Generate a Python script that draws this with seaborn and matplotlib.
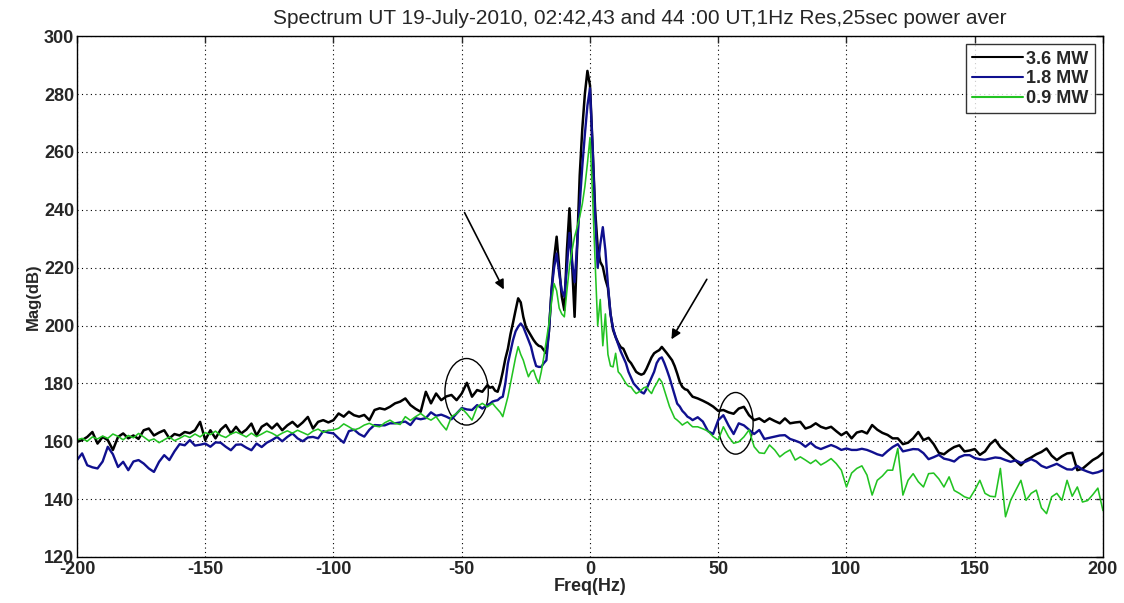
import numpy as np
import pandas as pd
import matplotlib
matplotlib.use("Agg")
import matplotlib.pyplot as plt
import seaborn as sns
from matplotlib.patches import Ellipse
from matplotlib import font_manager as fm

# ---------------- data ----------------
freq_left = list(range(-200, -41, 2))
freq_mid = list(range(-40, 41))
freq_right = list(range(42, 201, 2))
freq = freq_left + freq_mid + freq_right

black_left = [159.8, 160.4, 161.5, 163.2, 159.2, 161.5, 160.4, 157.0, 161.5, 162.7,
              161.0, 162.0, 160.8, 163.8, 164.4, 162.0, 163.0, 163.8, 161.0, 162.5,
              162.0, 163.2, 162.8, 163.8, 166.7, 160.4, 163.8, 161.0, 164.0, 165.6,
              162.7, 165.0, 162.7, 164.0, 166.1, 162.0, 165.0, 166.1, 164.4, 166.1,
              163.8, 165.5, 166.7, 165.0, 166.5, 168.4, 164.4, 166.7, 167.3, 166.5,
              167.3,
              169.6, 168.5, 170.2, 169.0, 168.5, 169.1, 167.3, 170.8, 171.4, 171.0,
              171.9, 173.1, 173.7, 174.8, 172.5, 171.2, 170.2, 177.1, 173.1, 176.5,
              174.2, 175.5, 176.0, 174.2, 176.5, 180.2, 175.4, 177.7, 177.1]
black_mid = [179.4, 178.5, 178.8, 177.5, 177.1, 180.0, 184.0, 188.5, 192.0, 197.0,
             201.0, 205.3, 209.4, 208.0, 203.0, 199.5, 198.0, 196.5, 195.0, 193.8,
             193.0, 192.7, 191.5, 190.4, 198.0, 212.0, 223.0, 230.7, 220.0, 210.0,
             205.3, 226.0, 240.5, 222.0, 203.0, 228.0, 252.0, 268.0, 280.0, 288.0,
             283.0, 262.0, 240.0, 227.0, 222.0, 220.3, 216.0, 213.0, 204.0, 198.5,
             196.0, 194.0, 192.5, 192.0, 190.0, 188.0, 187.0, 185.5, 184.0, 183.4,
             183.0, 183.4, 185.0, 187.0, 189.0, 190.4, 191.0, 191.5, 192.6, 191.5,
             190.4, 189.2, 188.0, 186.0, 183.4, 180.5, 178.8, 178.0, 177.7, 176.5,
             175.4]
black_right = [174.8, 174.0, 173.1, 172.0, 170.5, 170.8, 170.0, 169.5, 171.3, 171.9,
               169.0, 167.3, 167.9, 166.7, 167.9, 167.0, 166.2, 167.9, 166.2, 166.5,
               166.7, 164.4, 165.0, 166.2, 165.0, 164.4, 165.0, 163.5, 162.1, 163.2,
               161.0, 163.0, 163.5, 162.7, 165.6, 164.0, 162.9, 162.2, 161.0, 161.0,
               159.0, 159.5, 161.0, 163.2, 160.4, 161.2, 159.0, 156.0, 155.5, 156.9,
               158.0, 158.6, 156.5, 156.8, 157.3, 155.3, 156.5, 159.0, 160.5, 158.0,
               156.5, 155.0, 153.3, 151.7, 153.5, 154.4, 155.5, 156.3, 157.5, 155.0,
               153.5, 154.8, 155.8, 156.0, 150.0, 150.5, 152.0, 153.5, 154.5, 156.0]

blue_left = [153.5, 155.8, 151.7, 151.0, 150.6, 153.0, 158.1, 155.5, 151.1, 152.9,
             150.0, 153.0, 153.5, 152.3, 150.6, 149.4, 152.9, 155.2, 153.5, 156.5,
             159.0, 158.6, 160.4, 158.5, 158.8, 159.2, 158.1, 159.6, 159.5, 158.1,
             156.9, 158.8, 158.9, 157.8, 156.9, 159.2, 158.0, 159.5, 160.4, 161.5,
             160.0, 161.5, 162.7, 161.0, 160.0, 161.3, 161.5, 161.0, 163.5, 163.0,
             162.7,
             161.0, 159.5, 163.5, 164.0, 162.5, 161.6, 164.0, 165.6, 165.5, 165.5,
             166.2, 166.2, 166.5, 166.8, 165.6, 168.0, 167.6, 168.0, 170.0, 168.8,
             169.2, 168.5, 167.6, 169.6, 171.5, 171.0, 170.8, 172.5, 171.3]
blue_mid = [172.5, 173.0, 173.7, 174.0, 174.2, 175.0, 175.4, 180.0, 186.9, 191.0,
            195.0, 198.0, 199.6, 200.7, 199.5, 197.3, 195.0, 192.7, 189.0, 186.0,
            185.7, 185.7, 187.0, 188.0, 198.0, 212.2, 220.0, 224.9, 218.0, 212.0,
            210.0, 220.0, 232.0, 222.0, 215.0, 228.0, 242.0, 255.0, 266.0, 276.0,
            282.0, 262.0, 238.0, 220.0, 228.0, 234.0, 226.0, 214.0, 204.0, 199.0,
            196.0, 193.5, 191.0, 189.0, 187.0, 184.0, 182.0, 180.0, 179.0, 178.0,
            177.0, 176.5, 178.0, 180.0, 182.0, 184.0, 187.0, 188.5, 189.0, 187.0,
            184.6, 182.0, 179.0, 176.0, 173.0, 172.0, 170.5, 169.6, 168.5, 168.0,
            167.3]
blue_right = [168.3, 166.8, 163.5, 162.5, 167.3, 169.0, 165.5, 162.5, 166.2, 165.5,
              164.0, 162.5, 163.9, 160.8, 161.2, 161.6, 162.0, 162.1, 160.8, 160.2,
              159.5, 158.1, 159.5, 158.0, 157.3, 158.0, 158.7, 158.0, 157.0, 157.5,
              157.0, 157.0, 157.4, 157.0, 156.3, 155.5, 155.0, 156.6, 158.0, 159.0,
              156.5, 156.9, 157.3, 157.2, 155.9, 153.8, 154.5, 155.3, 154.0, 153.6,
              153.0, 154.5, 155.2, 155.2, 154.2, 153.8, 153.6, 154.0, 154.4, 154.2,
              153.5, 152.9, 153.4, 152.5, 153.0, 153.8, 153.0, 151.5, 150.8, 151.5,
              152.2, 151.2, 150.3, 150.2, 151.5, 150.2, 149.5, 148.9, 149.3, 150.0]

green_left = [160.5, 161.0, 160.0, 161.5, 160.8, 161.8, 161.0, 162.5, 161.7, 160.5,
              162.0, 161.2, 162.7, 161.5, 160.2, 160.8, 159.5, 160.5, 161.5, 160.2,
              161.0, 162.0, 161.3, 162.5, 161.5, 163.0, 162.3, 163.5, 162.0, 161.3,
              162.5, 163.2, 162.4, 161.5, 162.8, 161.6, 162.5, 163.5, 162.8, 161.8,
              162.8, 163.6, 162.8, 163.8, 163.0, 162.2, 163.5, 164.2, 163.1, 163.8,
              163.9,
              164.5, 166.0, 165.0, 163.9, 164.5, 165.6, 166.2, 165.3, 165.0, 166.4,
              167.3, 166.2, 165.8, 168.5, 167.2, 168.5, 169.6, 168.2, 167.3, 168.5,
              166.0, 163.9, 168.5, 169.6, 171.4, 169.5, 167.3, 171.9, 173.1]
green_mid = [171.9, 172.5, 173.1, 172.0, 171.0, 170.0, 168.5, 172.0, 175.4, 180.0,
             184.6, 189.0, 192.7, 190.0, 188.0, 185.0, 182.3, 184.0, 184.6, 182.0,
             180.0, 184.0, 189.2, 195.0, 200.7, 208.0, 214.5, 212.0, 206.0, 204.0,
             203.0, 212.0, 220.3, 226.0, 230.7, 234.0, 237.6, 242.0, 248.0, 256.0,
             265.0, 245.0, 222.0, 200.0, 209.0, 193.0, 204.0, 190.0, 186.0, 185.7,
             190.4, 184.0, 183.0, 181.5, 180.0, 179.0, 178.8, 177.5, 176.5, 177.0,
             177.7, 178.5, 178.8, 177.5, 176.5, 178.5, 180.0, 181.7, 180.5, 177.7,
             175.0, 172.0, 170.0, 168.0, 167.3, 166.5, 165.6, 166.2, 166.7, 165.8,
             165.0]
green_right = [165.0, 164.3, 163.5, 161.6, 160.4, 165.0, 161.6, 159.3, 159.8, 161.5,
               163.9, 158.1, 156.0, 155.8, 158.7, 157.0, 154.6, 156.0, 157.0, 153.5,
               154.6, 153.5, 152.3, 153.5, 151.8, 152.8, 154.0, 152.3, 150.0, 144.2,
               149.0, 150.6, 151.5, 148.3, 141.4, 146.5, 148.0, 150.0, 150.0, 157.5,
               141.4, 146.5, 148.8, 146.0, 144.2, 148.8, 149.0, 147.0, 144.2, 147.7,
               143.0, 142.0, 140.8, 140.2, 143.1, 146.5, 142.0, 141.0, 140.8, 150.6,
               133.9, 139.6, 143.1, 146.5, 139.6, 142.0, 143.1, 137.0, 135.0, 140.8,
               142.0, 139.6, 146.5, 141.0, 144.2, 139.0, 139.5, 141.5, 143.8, 136.0]

series_names = ["3.6 MW", "1.8 MW", "0.9 MW"]
series_vals = [black_left + black_mid + black_right,
               blue_left + blue_mid + blue_right,
               green_left + green_mid + green_right]
x_ticks = [-200, -150, -100, -50, 0, 50, 100, 150, 200]
y_ticks = [120, 140, 160, 180, 200, 220, 240, 260, 280, 300]
title = "Spectrum UT 19-July-2010, 02:42,43 and 44 :00 UT,1Hz Res,25sec power aver"

# ---------------- style ----------------
sns.set_style("white")
names = {f.name for f in fm.fontManager.ttflist}
narrow = "Liberation Sans Narrow" if "Liberation Sans Narrow" in names else "Liberation Sans"
plt.rcParams["font.family"] = ["Liberation Sans", "DejaVu Sans"]

colors = ["#000000", "#10108f", "#22c322"]
widths = [1.8, 1.7, 1.15]

fig = plt.figure(figsize=(11.24, 6.03), dpi=100)
ax = fig.add_axes([0.0685, 0.0763, 0.9128, 0.8637])

for name, vals, c, w in zip(series_names, series_vals, colors, widths):
    df = pd.DataFrame({"Freq": freq, "Mag": vals})
    sns.lineplot(data=df, x="Freq", y="Mag", ax=ax, color=c, linewidth=w,
                 label=name, estimator=None, sort=False)

ax.set_xlim(-200, 200)
ax.set_ylim(120, 300)
ax.set_xticks(x_ticks)
ax.set_yticks(y_ticks)
ax.set_xticklabels([str(t) for t in x_ticks], fontfamily=narrow, fontweight="bold", fontsize=13)
ax.set_yticklabels([str(t) for t in y_ticks], fontweight="bold", fontsize=13)
ax.grid(True, color="black", linestyle=(0, (1, 3)), linewidth=0.8)
ax.tick_params(direction="in", length=5, width=1, top=True, right=True)
ax.tick_params(axis="x", pad=3)
ax.tick_params(axis="y", pad=2)
for s in ax.spines.values():
    s.set_color("black")
    s.set_linewidth(1.0)

ax.set_xlabel("Freq(Hz)", fontfamily=narrow, fontweight="bold", fontsize=13, labelpad=0)
ax.set_ylabel("Mag(dB)", fontweight="bold", fontsize=12, labelpad=2)
fig.text(640 / 1124, 1 - 18 / 603, title, ha="center", va="center",
         fontfamily=narrow, fontsize=15)

# annotations
ax.annotate("", xy=(-33.1, 211.6), xytext=(-49.4, 239.9),
            arrowprops=dict(arrowstyle="-|>", color="black", lw=1.2, mutation_scale=14))
ax.annotate("", xy=(31.2, 194.4), xytext=(46.1, 216.8),
            arrowprops=dict(arrowstyle="-|>", color="black", lw=1.2, mutation_scale=14))
ax.add_patch(Ellipse((-48.1, 177.1), 16.9, 23.0, fill=False, edgecolor="black", lw=1.0))
ax.add_patch(Ellipse((56.8, 166.2), 13.6, 21.3, fill=False, edgecolor="black", lw=1.0))

leg = ax.legend(loc="upper right", frameon=True, fancybox=False, edgecolor="black",
                prop={"weight": "bold", "size": 13}, handlelength=2.8, handletextpad=0.2,
                borderpad=0.35, labelspacing=0.15, borderaxespad=0.45)
leg.get_frame().set_linewidth(1.0)
for line in leg.get_lines():
    line.set_linewidth(1.5)

fig.savefig("out.png", dpi=100)
